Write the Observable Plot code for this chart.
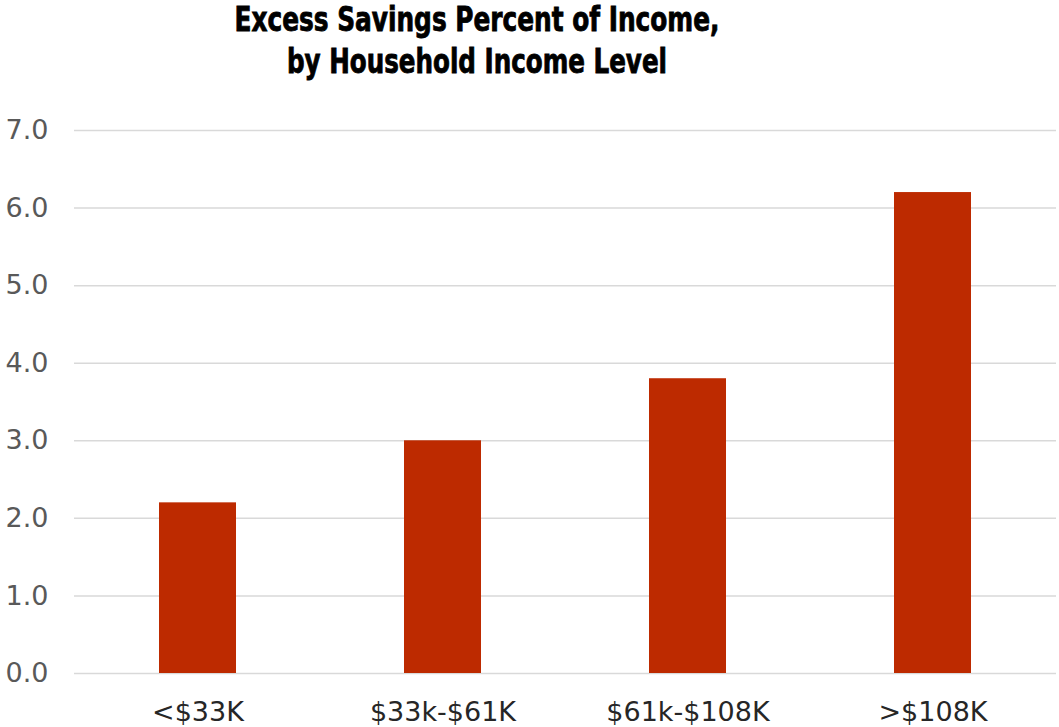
<!DOCTYPE html>
<html>
<head>
<meta charset="utf-8">
<script src="https://cdn.jsdelivr.net/npm/d3@7"></script>
<script src="https://cdn.jsdelivr.net/npm/@observablehq/plot@0.6"></script>
<style>
  html, body { margin: 0; padding: 0; background: #fff; }
  #wrap { position: relative; width: 1059px; }
  #title { display: block; }
  #title text { font-family: "Liberation Sans Narrow", "DejaVu Sans Condensed", "Roboto Condensed", sans-serif;
    font-weight: bold; font-size: 33px; fill: #000; stroke: #000; stroke-width: 0.8px; }
  #chart svg { display: block; }
</style>
</head>
<body>
<div id="wrap">
  <svg id="title" width="1059" height="90" viewBox="0 0 1059 90">
    <text x="477" y="31" text-anchor="middle" textLength="485" lengthAdjust="spacingAndGlyphs">Excess Savings Percent of Income,</text>
    <text x="477" y="73" text-anchor="middle" textLength="380" lengthAdjust="spacingAndGlyphs">by Household Income Level</text>
  </svg>
  <div id="chart"></div>
</div>
<script>
const categories = ["<$33K", "$33k-$61K", "$61k-$108K", ">$108K"];
const values = [2.2, 3.0, 3.8, 6.2];
const yTicks = [0, 1, 2, 3, 4, 5, 6, 7];

const data = categories.map((c, i) => ({category: c, value: values[i]}));

const chart = Plot.plot({
  width: 1059,
  height: 637,
  marginLeft: 74,
  marginRight: 3,
  marginTop: 40,
  marginBottom: 54,
  style: {fontFamily: "'DejaVu Sans', sans-serif", fontSize: "27px", background: "#fff"},
  x: {domain: categories, paddingInner: 0.686, paddingOuter: 0.343, label: null},
  y: {domain: [0, 7], label: null},
  marks: [
    Plot.ruleY(yTicks, {stroke: "#D9D9D9", strokeWidth: 1.5}),
    Plot.barY(data, {x: "category", y: "value", fill: "#BD2A00"}),
    Plot.axisX({tickSize: 0, tickPadding: 28, fill: "#262626", fontSize: 27, label: null}),
    Plot.axisY(yTicks, {tickSize: 0, tickPadding: 26, fill: "#595959", fontSize: 27,
      tickFormat: d => d.toFixed(1), label: null})
  ]
});
document.getElementById("chart").appendChild(chart);
</script>
</body>
</html>
